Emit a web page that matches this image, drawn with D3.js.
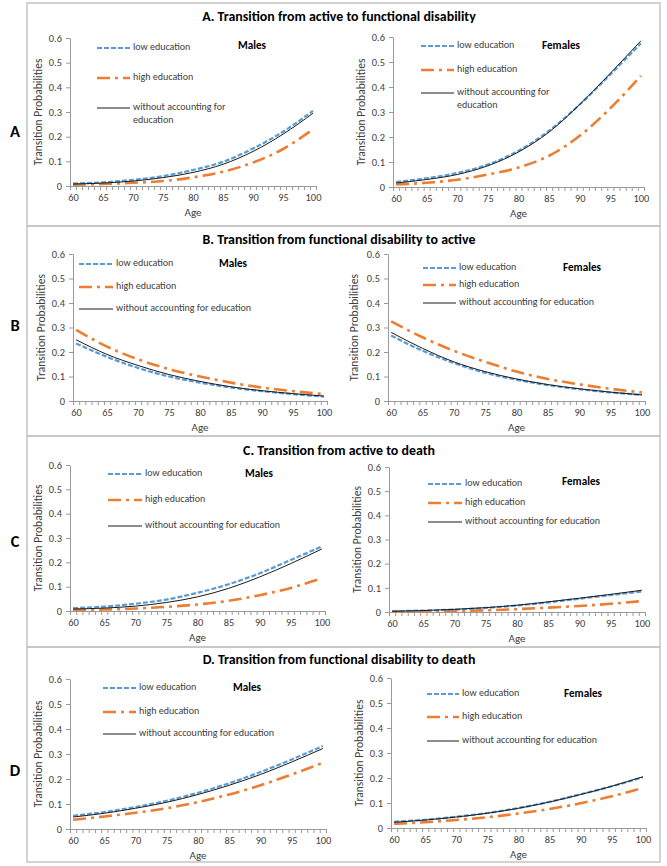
<!DOCTYPE html>
<html><head><meta charset="utf-8">
<script src="https://cdn.jsdelivr.net/npm/d3@7"></script>
<style>
body{margin:0;background:#fff}
svg{display:block}
text{font-family:Carlito, Lato, "Liberation Sans", sans-serif;fill:#404040}
</style>
</head><body>
<svg id="c" width="667" height="866"></svg>
<script>
// ---------------- data ----------------
const ages = [60, 65, 70, 75, 80, 85, 90, 95, 100];
const yTicks = [0, 0.1, 0.2, 0.3, 0.4, 0.5, 0.6];
const panelLetters = ["A", "B", "C", "D"];
const panelTitles = [
  "A. Transition from active to functional disability",
  "B. Transition from functional disability to active",
  "C. Transition from active to death",
  "D. Transition from functional disability to death"
];
const sexLabels = ["Males", "Females"];
const seriesNames = ["low education", "high education", "without accounting for education"];

// A. active -> functional disability
const aMaleLow    = [0.010, 0.015, 0.025, 0.040, 0.065, 0.098, 0.152, 0.220, 0.305];
const aMaleHigh   = [0.005, 0.008, 0.013, 0.020, 0.035, 0.058, 0.095, 0.150, 0.230];
const aMaleAll    = [0.008, 0.012, 0.020, 0.034, 0.055, 0.088, 0.140, 0.210, 0.295];
const aFemaleLow  = [0.020, 0.035, 0.056, 0.090, 0.145, 0.225, 0.330, 0.450, 0.575];
const aFemaleHigh = [0.010, 0.017, 0.029, 0.050, 0.078, 0.125, 0.205, 0.315, 0.445];
const aFemaleAll  = [0.016, 0.030, 0.050, 0.085, 0.140, 0.220, 0.330, 0.455, 0.585];
// B. functional disability -> active
const bMaleLow    = [0.235, 0.180, 0.135, 0.100, 0.075, 0.055, 0.040, 0.028, 0.018];
const bMaleHigh   = [0.290, 0.222, 0.170, 0.130, 0.100, 0.075, 0.055, 0.040, 0.028];
const bMaleAll    = [0.250, 0.190, 0.145, 0.108, 0.080, 0.058, 0.042, 0.030, 0.020];
const bFemaleLow  = [0.267, 0.205, 0.155, 0.115, 0.087, 0.065, 0.048, 0.035, 0.025];
const bFemaleHigh = [0.325, 0.260, 0.205, 0.160, 0.120, 0.090, 0.068, 0.050, 0.035];
const bFemaleAll  = [0.280, 0.215, 0.160, 0.120, 0.090, 0.067, 0.050, 0.036, 0.025];
// C. active -> death
const cMaleLow    = [0.012, 0.018, 0.030, 0.047, 0.075, 0.110, 0.155, 0.210, 0.265];
const cMaleHigh   = [0.004, 0.006, 0.010, 0.017, 0.027, 0.042, 0.065, 0.095, 0.135];
const cMaleAll    = [0.008, 0.012, 0.020, 0.035, 0.058, 0.093, 0.140, 0.195, 0.255];
const cFemaleLow  = [0.003, 0.006, 0.010, 0.017, 0.027, 0.040, 0.055, 0.070, 0.085];
const cFemaleHigh = [0.001, 0.002, 0.004, 0.007, 0.012, 0.018, 0.025, 0.034, 0.045];
const cFemaleAll  = [0.003, 0.006, 0.011, 0.018, 0.028, 0.042, 0.057, 0.073, 0.090];
// D. functional disability -> death
const dMaleLow    = [0.053, 0.068, 0.088, 0.113, 0.145, 0.183, 0.228, 0.278, 0.332];
const dMaleHigh   = [0.037, 0.050, 0.065, 0.083, 0.108, 0.138, 0.175, 0.218, 0.265];
const dMaleAll    = [0.048, 0.063, 0.083, 0.107, 0.138, 0.175, 0.218, 0.268, 0.322];
const dFemaleLow  = [0.025, 0.033, 0.045, 0.060, 0.080, 0.105, 0.135, 0.167, 0.203];
const dFemaleHigh = [0.017, 0.023, 0.032, 0.043, 0.058, 0.076, 0.099, 0.127, 0.160];
const dFemaleAll  = [0.023, 0.032, 0.044, 0.059, 0.079, 0.104, 0.134, 0.167, 0.205];

const panelData = [
  [[aMaleLow, aMaleHigh, aMaleAll], [aFemaleLow, aFemaleHigh, aFemaleAll]],
  [[bMaleLow, bMaleHigh, bMaleAll], [bFemaleLow, bFemaleHigh, bFemaleAll]],
  [[cMaleLow, cMaleHigh, cMaleAll], [cFemaleLow, cFemaleHigh, cFemaleAll]],
  [[dMaleLow, dMaleHigh, dMaleAll], [dFemaleLow, dFemaleHigh, dFemaleAll]]
];

// ---------------- layout & style ----------------
const rowFrames = [[3, 226], [226, 436], [436, 647], [647, 862]];
const rowTitleY = [18, 241, 452, 661];
const rowLetterY = [133, 327, 543, 772];
const plots = [
  [{xL:70,xR:316,yT:38,yB:186,ytx:39,lx0:97,lx1:130,ly:[48,78,108],wrap:true,sx:252,sy:46},
   {xL:393,xR:644,yT:37,yB:187,ytx:362,lx0:421,lx1:454,ly:[46,70,93],wrap:true,sx:561,sy:46}],
  [{xL:73,xR:327,yT:254,yB:401,ytx:42,lx0:79,lx1:113,ly:[264,287,309],sx:233,sy:264},
   {xL:388,xR:645,yT:254,yB:401,ytx:355,lx0:423,lx1:456,ly:[268,285,303],sx:582,sy:268}],
  [{xL:70,xR:325,yT:465,yB:611,ytx:39,lx0:108,lx1:142,ly:[474,500,526],sx:259,sy:474},
   {xL:389,xR:645,yT:467,yB:612,ytx:358,lx0:428,lx1:462,ly:[484,503,522],sx:581,sy:482}],
  [{xL:70,xR:326,yT:679,yB:829,ytx:39,lx0:103,lx1:136,ly:[688,712,734],sx:247,sy:688},
   {xL:391,xR:646,yT:678,yB:828,ytx:360,lx0:427,lx1:459,ly:[694,717,741],sx:583,sy:694}]
];
const styles = [
  {color:"#5B9BD5", width:2.2, dash:"5,2"},
  {color:"#ED7D31", width:2.6, dash:"13,5,3,5"},
  {color:"#1a1a1a", width:1, dash:null}
];

const svg = d3.select("#c");

// font size such that a sample string spans the width it has in the reference
function fitSize(sample, weight, width) {
  const t = svg.append("text").style("font-size", "100px").style("font-weight", weight).text(sample);
  const w = t.node().getComputedTextLength();
  t.remove();
  return Math.max(6, Math.min(20, 100 * width / w));
}
const fsTitle  = fitSize(panelTitles[0], "bold", 274);
const fsLegend = (fitSize("low education", "normal", 57) + fitSize("without accounting for education", "normal", 136)) / 2;
const fsYTitle = fitSize("Transition Probabilities", "normal", 107);
const fsTick   = (fitSize("100", "normal", 16) + fitSize("0.6", "normal", 13)) / 2;
const fsAge    = fitSize("Age", "normal", 17);
const fsSex    = (fitSize("Males", "bold", 28) + fitSize("Females", "bold", 38)) / 2;
const fsLetter = fitSize("A", "bold", 10);

rowFrames.forEach(([t, b], r) => {
  svg.append("rect").attr("x", 27).attr("y", t).attr("width", 633).attr("height", b - t)
    .attr("fill", "none").attr("stroke", "#c4c4c4").attr("stroke-width", 1.5);
  svg.append("text").attr("x", 339).attr("y", rowTitleY[r]).attr("text-anchor", "middle")
    .attr("dominant-baseline", "middle").style("font-weight", "bold").style("font-size", fsTitle + "px")
    .style("fill", "#000").text(panelTitles[r]);
  svg.append("text").attr("x", 15).attr("y", rowLetterY[r]).attr("text-anchor", "middle")
    .attr("dominant-baseline", "middle").style("font-weight", "bold").style("font-size", fsLetter + "px")
    .style("fill", "#000").text(panelLetters[r]);
});

plots.forEach((row, r) => row.forEach((p, s) => {
  const x = d3.scaleLinear().domain([59.5, 100.5]).range([p.xL, p.xR]);
  const y = d3.scaleLinear().domain([0, 0.6]).range([p.yB, p.yT]);
  const g = svg.append("g");

  const xa = g.append("g").attr("transform", `translate(0,${p.yB})`)
    .call(d3.axisBottom(x).tickValues(d3.range(59.5, 100.6, 1)).tickFormat("").tickSize(4).tickSizeOuter(0));
  xa.selectAll("path,line").attr("stroke", "#9a9a9a");
  const xl = g.append("g").attr("transform", `translate(0,${p.yB})`)
    .call(d3.axisBottom(x).tickValues(ages).tickFormat(d3.format("d")).tickSize(0).tickPadding(8));
  xl.select(".domain").remove();
  xl.selectAll("text").style("font-size", fsTick + "px").style("font-family", null).attr("fill", null);

  const ya = g.append("g").attr("transform", `translate(${p.xL},0)`)
    .call(d3.axisLeft(y).tickValues(yTicks).tickFormat(d => d === 0 ? "0" : d3.format(".1f")(d)).tickSize(4).tickSizeOuter(0).tickPadding(4));
  ya.selectAll("path,line").attr("stroke", "#9a9a9a");
  ya.selectAll("text").style("font-size", fsTick + "px").style("font-family", null).attr("fill", null);

  g.append("text").attr("x", (p.xL + p.xR) / 2).attr("y", p.yB + 27).attr("text-anchor", "middle")
    .attr("dominant-baseline", "middle").style("font-size", fsAge + "px").text("Age");
  g.append("text").attr("transform", `translate(${p.ytx},${(p.yT + p.yB) / 2}) rotate(-90)`)
    .attr("text-anchor", "middle").attr("dominant-baseline", "middle").style("font-size", fsYTitle + "px")
    .text("Transition Probabilities");

  const line = d3.line().x((d, i) => x(ages[i])).y(d => y(d)).curve(d3.curveMonotoneX);
  [1, 0, 2].forEach(k => {
    const st = styles[k];
    g.append("path").datum(panelData[r][s][k]).attr("d", line).attr("fill", "none")
      .attr("stroke", st.color).attr("stroke-width", st.width).attr("stroke-dasharray", st.dash);
  });

  seriesNames.forEach((name, k) => {
    const st = styles[k];
    const ly = p.ly[k];
    g.append("line").attr("x1", p.lx0).attr("x2", p.lx1).attr("y1", ly).attr("y2", ly)
      .attr("stroke", st.color).attr("stroke-width", st.width).attr("stroke-dasharray", st.dash);
    const t = g.append("text").attr("x", p.lx1 + 3).attr("y", ly).attr("dominant-baseline", "middle")
      .style("font-size", fsLegend + "px");
    if (k === 2 && p.wrap) {
      t.text("without accounting for");
      g.append("text").attr("x", p.lx1 + 3).attr("y", ly + 13).attr("dominant-baseline", "middle")
        .style("font-size", fsLegend + "px").text("education");
    } else t.text(name);
  });
  g.append("text").attr("x", p.sx).attr("y", p.sy).attr("text-anchor", "middle")
    .attr("dominant-baseline", "middle").style("font-weight", "bold").style("font-size", fsSex + "px")
    .style("fill", "#000").text(sexLabels[s]);
}));
</script>
</body></html>
